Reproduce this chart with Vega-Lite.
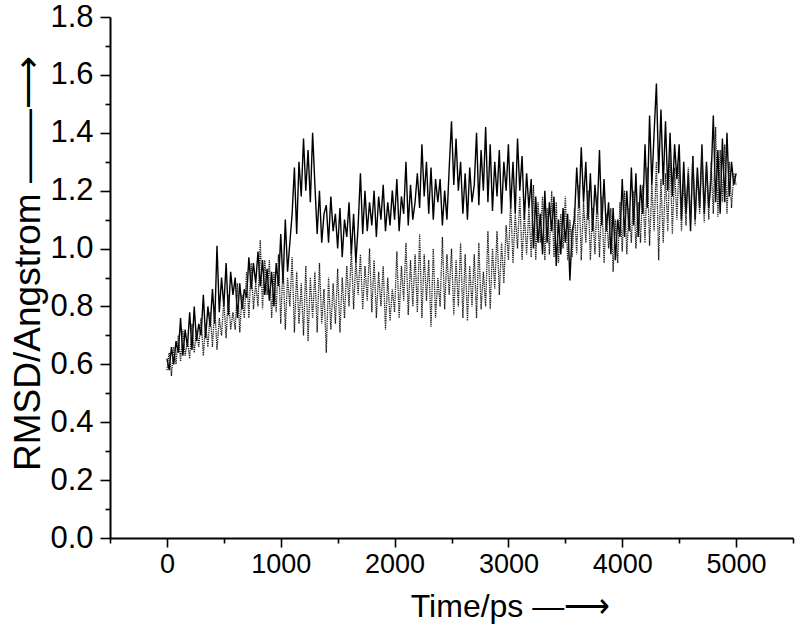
{
"$schema": "https://vega.github.io/schema/vega-lite/v6.json",
"width": 683, "height": 521,
"autosize": "none",
"padding": {"left": 110, "top": 17, "right": 7, "bottom": 97},
"background": "white",
"config": {"view": {"stroke": null}, "axis": {"labelFont": "Liberation Sans", "titleFont": "Liberation Sans", "domainColor": "black", "tickColor": "black", "labelColor": "black", "titleColor": "black", "grid": false, "domainWidth": 2, "tickWidth": 1.6, "titleFontWeight": "normal", "labelFlush": false, "labelOverlap": false}},
"data": {"values": [
{"t":0,"b":0.62,"g":0.58},{"t":20,"b":0.58,"g":0.64},{"t":40,"b":0.66,"g":0.56},{"t":60,"b":0.60,"g":0.66},{"t":80,"b":0.68,"g":0.60},
{"t":100,"b":0.64,"g":0.70},{"t":120,"b":0.76,"g":0.61},{"t":140,"b":0.63,"g":0.72},{"t":160,"b":0.72,"g":0.63},{"t":180,"b":0.66,"g":0.68},
{"t":200,"b":0.78,"g":0.62},{"t":220,"b":0.65,"g":0.74},{"t":240,"b":0.80,"g":0.64},{"t":260,"b":0.68,"g":0.72},{"t":280,"b":0.74,"g":0.66},
{"t":300,"b":0.70,"g":0.76},{"t":320,"b":0.84,"g":0.63},{"t":340,"b":0.69,"g":0.74},{"t":360,"b":0.80,"g":0.66},{"t":380,"b":0.73,"g":0.78},
{"t":400,"b":0.86,"g":0.66},{"t":420,"b":0.74,"g":0.80},{"t":440,"b":1.01,"g":0.65},{"t":460,"b":0.78,"g":0.76},{"t":480,"b":0.90,"g":0.70},
{"t":500,"b":0.80,"g":0.82},{"t":520,"b":0.95,"g":0.69},{"t":540,"b":0.77,"g":0.84},{"t":560,"b":0.92,"g":0.72},{"t":580,"b":0.84,"g":0.78},
{"t":600,"b":0.90,"g":0.72},{"t":620,"b":0.76,"g":0.88},{"t":640,"b":0.88,"g":0.71},{"t":660,"b":0.79,"g":0.84},{"t":680,"b":0.86,"g":0.76},
{"t":700,"b":0.83,"g":0.92},{"t":720,"b":0.97,"g":0.76},{"t":740,"b":0.86,"g":0.95},{"t":760,"b":0.95,"g":0.79},{"t":780,"b":0.88,"g":0.88},
{"t":800,"b":0.99,"g":0.80},{"t":820,"b":0.87,"g":1.03},{"t":840,"b":0.96,"g":0.79},{"t":860,"b":0.84,"g":0.96},{"t":880,"b":0.93,"g":0.84},
{"t":900,"b":0.82,"g":0.96},{"t":920,"b":0.92,"g":0.76},{"t":940,"b":0.80,"g":0.92},{"t":960,"b":0.95,"g":0.78},{"t":980,"b":0.87,"g":0.98},
{"t":1000,"b":1.05,"g":0.74},{"t":1020,"b":0.88,"g":0.95},{"t":1040,"b":1.10,"g":0.72},{"t":1060,"b":0.92,"g":0.90},{"t":1080,"b":1.02,"g":0.80},
{"t":1100,"b":1.12,"g":0.97},{"t":1120,"b":1.28,"g":0.71},{"t":1140,"b":1.05,"g":0.92},{"t":1160,"b":1.30,"g":0.74},{"t":1180,"b":1.18,"g":0.88},
{"t":1200,"b":1.38,"g":0.70},{"t":1220,"b":1.20,"g":0.94},{"t":1240,"b":1.34,"g":0.68},{"t":1260,"b":1.16,"g":0.90},{"t":1280,"b":1.40,"g":0.76},
{"t":1300,"b":1.22,"g":0.92},{"t":1320,"b":1.05,"g":0.71},{"t":1340,"b":1.20,"g":0.95},{"t":1360,"b":1.02,"g":0.74},{"t":1380,"b":1.12,"g":0.86},
{"t":1400,"b":1.15,"g":0.64},{"t":1420,"b":1.02,"g":0.90},{"t":1440,"b":1.18,"g":0.72},{"t":1460,"b":1.06,"g":0.88},{"t":1480,"b":1.12,"g":0.74},
{"t":1500,"b":1.00,"g":0.93},{"t":1520,"b":1.14,"g":0.71},{"t":1540,"b":0.97,"g":0.90},{"t":1560,"b":1.10,"g":0.76},{"t":1580,"b":1.04,"g":0.94},
{"t":1600,"b":1.16,"g":0.80},{"t":1620,"b":0.98,"g":1.00},{"t":1640,"b":1.12,"g":0.79},{"t":1660,"b":0.95,"g":0.96},{"t":1680,"b":1.08,"g":0.84},
{"t":1700,"b":1.26,"g":0.98},{"t":1720,"b":1.05,"g":0.79},{"t":1740,"b":1.20,"g":0.94},{"t":1760,"b":1.06,"g":0.82},{"t":1780,"b":1.16,"g":1.00},
{"t":1800,"b":1.08,"g":0.78},{"t":1820,"b":1.20,"g":0.96},{"t":1840,"b":1.04,"g":0.76},{"t":1860,"b":1.18,"g":0.92},{"t":1880,"b":1.10,"g":0.80},
{"t":1900,"b":1.22,"g":0.94},{"t":1920,"b":1.06,"g":0.72},{"t":1940,"b":1.16,"g":0.90},{"t":1960,"b":1.08,"g":0.75},{"t":1980,"b":1.20,"g":0.86},
{"t":2000,"b":1.10,"g":0.78},{"t":2020,"b":1.24,"g":0.99},{"t":2040,"b":1.06,"g":0.76},{"t":2060,"b":1.18,"g":0.94},{"t":2080,"b":1.12,"g":0.82},
{"t":2100,"b":1.30,"g":1.02},{"t":2120,"b":1.08,"g":0.77},{"t":2140,"b":1.22,"g":0.96},{"t":2160,"b":1.10,"g":0.80},{"t":2180,"b":1.16,"g":0.98},
{"t":2200,"b":1.26,"g":0.78},{"t":2220,"b":1.14,"g":1.05},{"t":2240,"b":1.36,"g":0.76},{"t":2260,"b":1.18,"g":0.98},{"t":2280,"b":1.30,"g":0.82},
{"t":2300,"b":1.12,"g":0.96},{"t":2320,"b":1.28,"g":0.73},{"t":2340,"b":1.10,"g":1.00},{"t":2360,"b":1.24,"g":0.76},{"t":2380,"b":1.16,"g":0.90},
{"t":2400,"b":1.24,"g":0.80},{"t":2420,"b":1.08,"g":1.04},{"t":2440,"b":1.20,"g":0.79},{"t":2460,"b":1.10,"g":0.98},{"t":2480,"b":1.28,"g":0.84},
{"t":2500,"b":1.44,"g":1.00},{"t":2520,"b":1.22,"g":0.77},{"t":2540,"b":1.38,"g":0.96},{"t":2560,"b":1.20,"g":0.80},{"t":2580,"b":1.30,"g":1.02},
{"t":2600,"b":1.12,"g":0.76},{"t":2620,"b":1.26,"g":0.98},{"t":2640,"b":1.10,"g":0.75},{"t":2660,"b":1.28,"g":0.94},{"t":2680,"b":1.16,"g":0.80},
{"t":2700,"b":1.22,"g":0.98},{"t":2720,"b":1.40,"g":0.76},{"t":2740,"b":1.15,"g":1.02},{"t":2760,"b":1.34,"g":0.79},{"t":2780,"b":1.20,"g":0.92},
{"t":2800,"b":1.42,"g":0.80},{"t":2820,"b":1.16,"g":1.06},{"t":2840,"b":1.36,"g":0.79},{"t":2860,"b":1.13,"g":1.00},{"t":2880,"b":1.30,"g":0.86},
{"t":2900,"b":1.18,"g":1.06},{"t":2920,"b":1.34,"g":0.84},{"t":2940,"b":1.12,"g":1.02},{"t":2960,"b":1.30,"g":0.88},{"t":2980,"b":1.20,"g":1.08},
{"t":3000,"b":1.36,"g":0.96},{"t":3020,"b":1.14,"g":1.16},{"t":3040,"b":1.30,"g":0.95},{"t":3060,"b":1.12,"g":1.12},{"t":3080,"b":1.38,"g":1.00},
{"t":3100,"b":1.20,"g":1.18},{"t":3120,"b":1.32,"g":0.96},{"t":3140,"b":1.10,"g":1.12},{"t":3160,"b":1.26,"g":0.98},{"t":3180,"b":1.14,"g":1.14},
{"t":3200,"b":1.24,"g":0.97},{"t":3220,"b":1.00,"g":1.22},{"t":3240,"b":1.18,"g":0.96},{"t":3260,"b":1.02,"g":1.16},{"t":3280,"b":1.12,"g":1.02},
{"t":3300,"b":0.98,"g":1.18},{"t":3320,"b":1.20,"g":0.96},{"t":3340,"b":1.02,"g":1.14},{"t":3360,"b":1.16,"g":0.98},{"t":3380,"b":1.06,"g":1.20},
{"t":3400,"b":1.18,"g":0.97},{"t":3420,"b":0.94,"g":1.16},{"t":3440,"b":1.10,"g":0.95},{"t":3460,"b":0.98,"g":1.12},{"t":3480,"b":1.14,"g":1.00},
{"t":3500,"b":1.02,"g":1.18},{"t":3520,"b":1.12,"g":0.96},{"t":3540,"b":0.89,"g":1.10},{"t":3560,"b":1.06,"g":0.97},{"t":3580,"b":1.10,"g":1.14},
{"t":3600,"b":1.28,"g":0.98},{"t":3620,"b":1.14,"g":1.22},{"t":3640,"b":1.35,"g":0.96},{"t":3660,"b":1.16,"g":1.16},{"t":3680,"b":1.30,"g":1.02},
{"t":3700,"b":1.10,"g":1.20},{"t":3720,"b":1.26,"g":0.96},{"t":3740,"b":1.06,"g":1.14},{"t":3760,"b":1.22,"g":0.98},{"t":3780,"b":1.12,"g":1.18},
{"t":3800,"b":1.34,"g":0.97},{"t":3820,"b":1.08,"g":1.18},{"t":3840,"b":1.24,"g":0.95},{"t":3860,"b":1.06,"g":1.12},{"t":3880,"b":1.16,"g":1.00},
{"t":3900,"b":0.98,"g":1.14},{"t":3920,"b":1.14,"g":0.92},{"t":3940,"b":0.96,"g":1.10},{"t":3960,"b":1.10,"g":0.95},{"t":3980,"b":1.04,"g":1.16},
{"t":4000,"b":1.24,"g":0.99},{"t":4020,"b":1.04,"g":1.20},{"t":4040,"b":1.20,"g":0.98},{"t":4060,"b":1.06,"g":1.14},{"t":4080,"b":1.28,"g":1.02},
{"t":4100,"b":1.08,"g":1.20},{"t":4120,"b":1.26,"g":1.00},{"t":4140,"b":1.04,"g":1.16},{"t":4160,"b":1.22,"g":1.02},{"t":4180,"b":1.12,"g":1.22},
{"t":4200,"b":1.36,"g":1.02},{"t":4220,"b":1.14,"g":1.28},{"t":4240,"b":1.46,"g":1.01},{"t":4260,"b":1.22,"g":1.22},{"t":4280,"b":1.40,"g":1.06},
{"t":4300,"b":1.57,"g":1.30},{"t":4320,"b":1.26,"g":0.96},{"t":4340,"b":1.48,"g":1.24},{"t":4360,"b":1.22,"g":1.02},{"t":4380,"b":1.44,"g":1.26},
{"t":4400,"b":1.20,"g":1.06},{"t":4420,"b":1.40,"g":1.34},{"t":4440,"b":1.18,"g":1.05},{"t":4460,"b":1.36,"g":1.28},{"t":4480,"b":1.24,"g":1.10},
{"t":4500,"b":1.36,"g":1.30},{"t":4520,"b":1.10,"g":1.06},{"t":4540,"b":1.30,"g":1.24},{"t":4560,"b":1.12,"g":1.08},{"t":4580,"b":1.26,"g":1.28},
{"t":4600,"b":1.06,"g":1.09},{"t":4620,"b":1.32,"g":1.32},{"t":4640,"b":1.10,"g":1.08},{"t":4660,"b":1.28,"g":1.26},{"t":4680,"b":1.14,"g":1.12},
{"t":4700,"b":1.36,"g":1.34},{"t":4720,"b":1.12,"g":1.09},{"t":4740,"b":1.30,"g":1.28},{"t":4760,"b":1.14,"g":1.10},{"t":4780,"b":1.24,"g":1.30},
{"t":4800,"b":1.46,"g":1.12},{"t":4820,"b":1.16,"g":1.42},{"t":4840,"b":1.34,"g":1.11},{"t":4860,"b":1.12,"g":1.34},{"t":4880,"b":1.38,"g":1.16},
{"t":4900,"b":1.16,"g":1.36},{"t":4920,"b":1.40,"g":1.12},{"t":4940,"b":1.18,"g":1.30},{"t":4960,"b":1.30,"g":1.14},{"t":4980,"b":1.22,"g":1.26},
{"t":5000,"b":1.26,"g":1.22}
]},
"layer": [
{"mark": {"type": "line", "color": "black", "strokeWidth": 1.4},
 "encoding": {
  "x": {"field": "t", "type": "quantitative", "scale": {"domain": [-500, 5500], "nice": false, "zero": false},
        "axis": {"orient": "bottom", "values": [0, 1000, 2000, 3000, 4000, 5000], "tickSize": 9, "labelFontSize": 27, "labelPadding": 4, "format": "d",
                 "title": "Time/ps   —⟶", "titleFontSize": 32, "titleX": 400, "titleY": 68, "titleBaseline": "middle", "titleAlign": "center"}},
  "y": {"field": "b", "type": "quantitative", "scale": {"domain": [0, 1.8], "nice": false, "zero": true},
        "axis": {"orient": "left", "values": [0, 0.2, 0.4, 0.6, 0.8, 1.0, 1.2, 1.4, 1.6, 1.8], "format": ".1f", "tickSize": 10, "labelFontSize": 31, "labelPadding": 7,
                 "title": "RMSD/Angstrom ——⟶", "titleFontSize": 37, "titleX": -82, "titleY": 246, "titleBaseline": "middle", "titleAlign": "center", "titleAngle": -90}}
 }},
{"mark": {"type": "line", "color": "#1e1e1e", "strokeWidth": 1.3, "strokeDash": [1.3, 0.9]},
 "encoding": {
  "x": {"field": "t", "type": "quantitative",
        "axis": {"orient": "bottom", "values": [-500, 500, 1500, 2500, 3500, 4500, 5500], "tickSize": 5, "labels": false, "domain": false, "title": null}},
  "y": {"field": "g", "type": "quantitative",
        "axis": {"orient": "left", "values": [0.1, 0.3, 0.5, 0.7, 0.9, 1.1, 1.3, 1.5, 1.7], "tickSize": 5, "labels": false, "domain": false, "title": null}}
 }}
],
"resolve": {"axis": {"x": "independent", "y": "independent"}}
}
